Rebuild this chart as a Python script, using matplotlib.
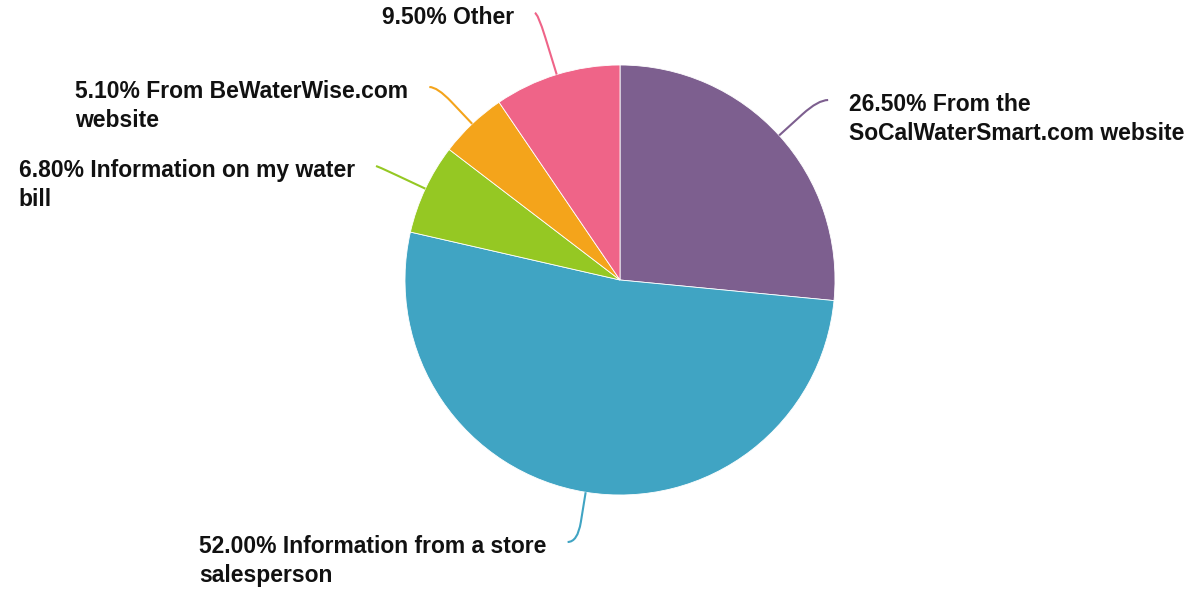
import numpy as np
import matplotlib
matplotlib.use("Agg")
import matplotlib.pyplot as plt
from matplotlib.path import Path
from matplotlib.patches import PathPatch

# ---- data ----
categories = [
    "From the\nSoCalWaterSmart.com website",
    "Information from a store\nsalesperson",
    "Information on my water\nbill",
    "From BeWaterWise.com\nwebsite",
    "Other",
]
values = [26.5, 52.0, 6.8, 5.1, 9.5]
colors = ["#7D5F8F", "#40A4C3", "#95C823", "#F4A41B", "#EF6488"]

# ---- layout (pixel coords, y from top) ----
W, H = 1189, 590
cx, cy, R = 620, 280, 215
# leader end y (pixel), horizontal tail length, side
leader_end_y = [100, 542, 166, 87, 13]
tail = [10, 10, 1, 8, 3]
side = ["right", "left", "left", "left", "left"]

fig = plt.figure(figsize=(W / 100, H / 100), dpi=100)
ax = fig.add_axes([0, 0, 1, 1])
ax.pie(values, center=(cx, H - cy), radius=R, startangle=90, counterclock=False,
       colors=colors, wedgeprops=dict(edgecolor="white", linewidth=0.6))
ax.set_xlim(0, W)
ax.set_ylim(0, H)
ax.set_aspect("equal")
ax.axis("off")

total = sum(values)
cum = 0.0
for i, v in enumerate(values):
    mid = (cum + v / 2) / total * 2 * np.pi  # clockwise from top
    cum += v
    dx, dy = np.sin(mid), -np.cos(mid)  # pixel direction (y down)
    p0 = np.array([cx + R * dx, cy + R * dy])
    t = (leader_end_y[i] - p0[1]) / dy
    elbow = np.array([p0[0] + t * dx, leader_end_y[i]])
    sgn = 1 if side[i] == "right" else -1
    end = elbow + np.array([sgn * tail[i], 0])
    a = p0 + 0.6 * (elbow - p0)
    pts = [p0, a, elbow, end]
    pts = [(x, H - y) for x, y in pts]
    path = Path(pts, [Path.MOVETO, Path.LINETO, Path.CURVE3, Path.CURVE3])
    ax.add_patch(PathPatch(path, facecolor="none", edgecolor=colors[i], linewidth=1.5))
    label = f"{v:.2f}% {categories[i]}"
    tx = end[0] + sgn * 21
    ty = H - (end[1] - 7)
    ax.text(tx, ty, label, ha="left" if sgn > 0 else "right", va="top",
            multialignment="left", fontsize=16.5, fontweight="bold",
            family=["Liberation Sans", "DejaVu Sans"], color="#111111",
            linespacing=1.33)

fig.savefig("out.png", dpi=100)
